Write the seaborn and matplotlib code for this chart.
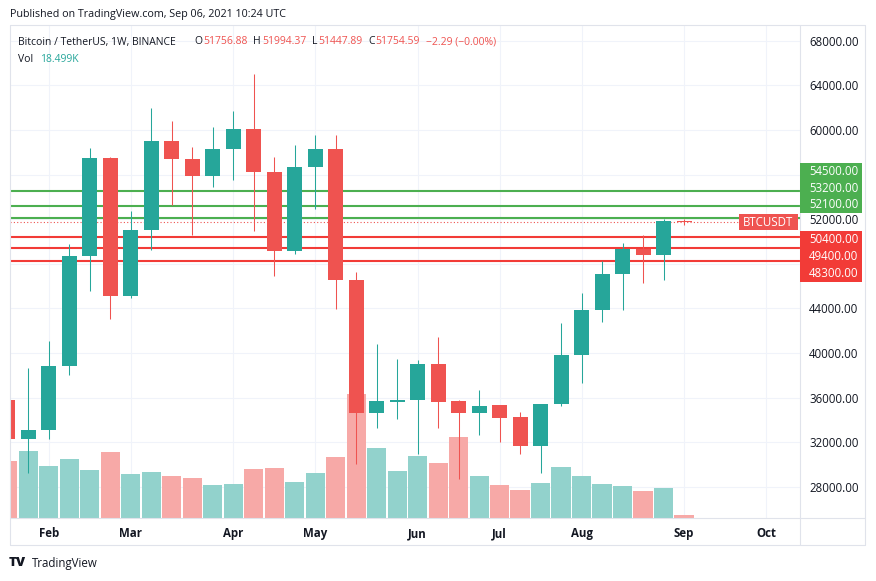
import numpy as np
import pandas as pd
import matplotlib
matplotlib.use("Agg")
import matplotlib.pyplot as plt
import matplotlib.dates as mdates
from matplotlib.lines import Line2D
from matplotlib.patches import Rectangle
from matplotlib.transforms import IdentityTransform
import seaborn as sns

# ---------------- data ----------------
week_start = "2021-01-18"
n_weeks = 34
opens = [35811, 32269, 33108, 38874, 48667, 57523, 45117, 51009, 59027, 57432,
         55874, 58333, 60108, 56234, 49117, 56685, 58333, 46532, 34613, 35568,
         35748, 39054, 35658, 34667, 35360, 34306, 31694, 35450, 39865, 43829,
         47072, 49324, 48811, 51756.88]
highs = [37850, 38667, 41063, 49775, 58396, 57600, 52775, 61937, 60829, 58514,
         60288, 61730, 65027, 57586, 58631, 59595, 59595, 47225, 40856, 39505,
         39414, 41459, 35811, 36649, 35360, 34757, 35450, 42658, 45423, 48270,
         49838, 50586, 52027, 51994.37]
lows = [28850, 29207, 32269, 38063, 45568, 43018, 44973, 49261, 53315, 50613,
        54883, 55477, 50973, 46919, 48874, 52928, 43919, 30018, 33315, 34099,
        30919, 33315, 28667, 32658, 32000, 30919, 29261, 35207, 37315, 42775,
        43856, 46324, 46532, 51447.89]
closes = [32269, 33108, 38874, 48667, 57523, 45117, 51009, 59027, 57432, 55874,
          58333, 60108, 56234, 49117, 56685, 58333, 46532, 34613, 35658, 35811,
          39054, 35568, 34667, 35270, 34216, 31694, 35450, 39865, 43829, 47072,
          49324, 48811, 51820, 51754.59]
volumes_k = [321, 377, 293, 332, 270, 370, 248, 259, 237, 226,
             185, 192, 276, 282, 203, 252, 343, 694, 394, 265,
             349, 310, 455, 237, 186, 158, 198, 287, 237, 192,
             181, 153, 170, 18.499]

green_levels = [54500, 53200, 52100]
red_levels = [50400, 49400, 48300]
price_ticks = [28000, 32000, 36000, 40000, 44000, 48000, 52000,
               56000, 60000, 64000, 68000]
month_ticks = ["2021-02-01", "2021-03-01", "2021-04-05", "2021-05-03",
               "2021-06-07", "2021-07-05", "2021-08-02", "2021-09-06",
               "2021-10-04"]
month_labels = ["Feb", "Mar", "Apr", "May", "Jun", "Jul", "Aug", "Sep", "Oct"]
symbol = "BTCUSDT"
title_text = "Bitcoin / TetherUS, 1W, BINANCE"
published = "Published on TradingView.com, Sep 06, 2021 10:24 UTC"
change_text = "\u22122.29 (\u22120.00%)"
vol_text = "18.499K"

# ---------------- style ----------------
UP, DOWN = "#26a69a", "#ef5350"
UP_VOL, DOWN_VOL = "#92d2cc", "#f7a9a7"
GREEN, RED = "#4caf50", "#f23b37"
TXT = "#131722"
FRAME = "#e0e3eb"
GRID = "#f0f3fa"

sns.set_theme(style="white")
plt.rcParams["font.family"] = ["Open Sans", "DejaVu Sans"]

W, H = 876, 581
fig = plt.figure(figsize=(W / 100, H / 100), dpi=100)
fig.patch.set_facecolor("white")
L, R, T, B = 10, 800, 25, 518
rect = [L / W, 1 - B / H, (R - L) / W, (B - T) / H]

ax = fig.add_axes(rect)                          # grid + tick labels
ax_vol = fig.add_axes(rect, sharex=ax)           # volume
ax_p = fig.add_axes(rect, sharex=ax, sharey=ax)  # candles + levels

weeks = pd.date_range(week_start, periods=n_weeks, freq="7D")
x = mdates.date2num(weeks)
o = np.array(opens, float); c = np.array(closes, float)
hi = np.array(highs, float); lo = np.array(lows, float)
up = c >= o
cols = np.where(up, UP, DOWN)

# volume with seaborn
df = pd.DataFrame({"x": x, "vol": volumes_k, "dir": np.where(up, "up", "down")})
sns.barplot(data=df, x="x", y="vol", hue="dir",
            palette={"up": UP_VOL, "down": DOWN_VOL}, saturation=1,
            native_scale=True, dodge=False, width=0.94, linewidth=0,
            errorbar=None, legend=False, ax=ax_vol)
ax_vol.set_ylim(0, max(volumes_k) * 3.98)
ax_vol.axis("off")
ax_vol.patch.set_visible(False)

# level lines
for v in green_levels:
    ax_p.axhline(v, color=GREEN, lw=1.5, zorder=1)
for v in red_levels:
    ax_p.axhline(v, color=RED, lw=1.5, zorder=1)
last_price = closes[-1]
ax_p.axhline(last_price, xmin=0, xmax=(739 - L) / (R - L), color=DOWN,
             lw=0.8, ls=(0, (1, 2)), zorder=1)

# candles
ax_p.vlines(x, lo, hi, colors=cols, lw=0.75, zorder=3)
body_h = np.maximum(np.abs(c - o), 90)
ax_p.bar(x, body_h, bottom=np.minimum(o, c), width=5.12, color=cols,
         linewidth=0, zorder=4)
ax_p.axis("off")
ax_p.patch.set_visible(False)

# limits
x0 = x[1]
ax.set_xlim(x0 - 6.25, x0 + 263.6)
ax.set_ylim(25207, 69422)


def ytop(v):
    return H - ax.transData.transform((0, v))[1]


# label boxes geometry on the price scale
cur = ytop(last_price)
gh, rh = 16.7, 17.0
g_bottom = cur - 8.7
g_top = g_bottom - 3 * gh
r_top = cur + 8.7
r_bottom = r_top + 3 * rh

# axes cosmetics
for s in ax.spines.values():
    s.set_visible(False)
ax.yaxis.tick_right()
ax.set_yticks(price_ticks)
tick_labels = []
for v in price_ticks:
    yp = ytop(v)
    hidden = (g_top < yp < g_bottom) or (r_top < yp < r_bottom)
    tick_labels.append("" if hidden else f"{v:.2f}")
ax.set_yticklabels(tick_labels)
ax.set_xticks(mdates.date2num(pd.to_datetime(month_ticks)))
ax.set_xticklabels(month_labels, fontweight="bold")
ax.tick_params(axis="y", length=0, pad=6.5, labelsize=8.3, labelcolor=TXT)
ax.tick_params(axis="x", length=0, pad=6.5, labelsize=8.3, labelcolor=TXT)
ax.grid(True, color=GRID, lw=0.8)
ax.set_axisbelow(True)


# frame lines (pixel coordinates, from top)
def fl(x1, y1, x2, y2):
    fig.add_artist(Line2D([x1 / W, x2 / W], [1 - y1 / H, 1 - y2 / H],
                          color=FRAME, lw=0.8, transform=fig.transFigure))


fl(L, T, 865, T); fl(L, 545, 865, 545); fl(L, T, L, 545); fl(865, T, 865, 545)
fl(R, T, R, 545); fl(L, B, 865, B)


def box(x1, y1, x2, y2, color):
    fig.add_artist(Rectangle((x1, H - y2), x2 - x1, y2 - y1, facecolor=color,
                             edgecolor="none", transform=IdentityTransform(),
                             zorder=5))


def ptxt(xp, yp, s, **kw):
    kw.setdefault("va", "center")
    kw.setdefault("ha", "left")
    return fig.text(xp / W, 1 - yp / H, s, zorder=6, **kw)


box(R, g_top, 862, g_bottom, GREEN)
for i, v in enumerate(reversed(green_levels)):
    ptxt(809, g_bottom - gh / 2 - i * gh, f"{v:.2f}", color="white", fontsize=8.3)
box(R, r_top, 862, r_bottom, RED)
for i, v in enumerate(red_levels):
    ptxt(809, r_top + rh / 2 + i * rh, f"{v:.2f}", color="white", fontsize=8.3)
box(739, cur - 7.8, 798, cur + 7.8, DOWN)
ptxt(768.5, cur + 0.5, symbol, color="white", fontsize=8.3, ha="center")

# ---------------- header / legend / footer ----------------
renderer = fig.canvas.get_renderer()
ptxt(10, 15, published, color=TXT, fontsize=7.75)

legend_items = [
    (18, title_text, TXT),
    (194, "O", TXT), (203, f"{opens[-1]:.2f}", DOWN),
    (252, "H", TXT), (262, f"{highs[-1]:.2f}", DOWN),
    (311, "L", TXT), (318, f"{lows[-1]:.2f}", DOWN),
    (363, "C", TXT), (371, f"{closes[-1]:.2f}", DOWN),
    (421, change_text, DOWN),
]
prev_end = 0
for i, (xr, s, col) in enumerate(legend_items):
    joined = col == DOWN and s != change_text
    gap = 0.5 if joined else 6
    xs = max(xr, prev_end + gap)
    t = ptxt(xs, 42, s, color=col, fontsize=7.5)
    bb = t.get_window_extent(renderer)
    prev_end = bb.x1
ptxt(18, 59, "Vol", color=TXT, fontsize=7.5)
ptxt(40, 59, vol_text, color=UP, fontsize=7.5)

ptxt(9, 563, "TV", color=TXT, fontsize=9.5, fontweight="heavy")
ptxt(32, 563, "TradingView", color=TXT, fontsize=8.3)

fig.savefig("out.png", dpi=100, facecolor="white")
